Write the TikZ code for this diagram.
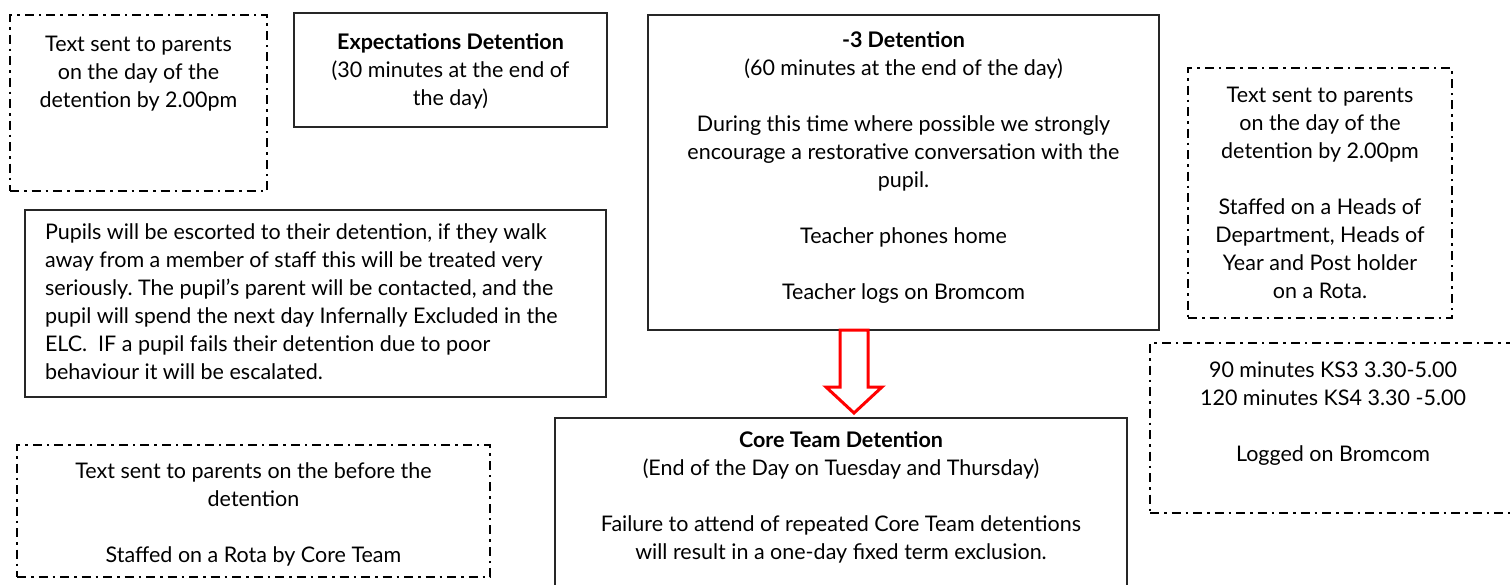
\documentclass[tikz,border=0pt]{standalone}
\usepackage{fontspec}
\setmainfont{Lato}
\usetikzlibrary{calc}
\frenchspacing
\newcommand{\ctext}[4]{\parbox[c][#2][t]{#1}{\centering\vspace*{#3}\strut #4\par}}
\newcommand{\ltext}[4]{\parbox[c][#2][t]{#1}{\raggedright\vspace*{#3}\strut #4\par}}
\begin{document}
\begin{tikzpicture}[x=1pt,y=-1pt,
  every node/.style={font=\fontsize{21.5}{28}\selectfont, inner sep=0pt, outer sep=0pt},
  solidbox/.style={draw=black!85, line width=1.4pt, fill=white, rectangle},
  dashbox/.style={draw=black, line width=2.5pt, fill=white, rectangle,
    dash pattern=on 9pt off 5pt on 2.5pt off 5pt},
  redarrow/.style={draw=red, line width=3pt, fill=white, line join=miter}]
\useasboundingbox (0,0) rectangle (1510,584);
\fill[white] (0,0) rectangle (1510,584);

\node[dashbox, minimum width=257pt, minimum height=176pt] (A) at (138.5,103)
  {\ctext{257pt}{176pt}{17pt}{Text sent to parents\\on the day of the\\detention by 2.00pm}};

\node[solidbox, minimum width=313pt, minimum height=114pt] (B) at (450.5,70)
  {\ctext{313pt}{114pt}{17pt}{\textbf{Expectations Detention}\\(30 minutes at the end of\\the day)}};

\node[solidbox, minimum width=511pt, minimum height=315pt] (C) at (903.5,172.5)
  {\ctext{511pt}{315pt}{13pt}{\textbf{-3 Detention}\\(60 minutes at the end of the day)\\[28pt]During this time where possible we strongly\\encourage a restorative conversation with the\\pupil.\\[28pt]Teacher phones home\\[28pt]Teacher logs on Bromcom}};

\node[dashbox, minimum width=264pt, minimum height=250pt] (D) at (1320,193)
  {\ctext{264pt}{250pt}{15pt}{Text sent to parents\\on the day of the\\detention by 2.00pm\\[28pt]Staffed on a Heads of\\Department, Heads of\\Year and Post holder\\on a Rota.}};

\node[dashbox, minimum width=366pt, minimum height=170pt] (E) at (1333,428)
  {\ctext{366pt}{170pt}{15pt}{90 minutes KS3 3.30-5.00\\120 minutes KS4 3.30 -5.00\\[28pt]Logged on Bromcom}};

\node[solidbox, minimum width=581pt, minimum height=187pt] (F) at (315.5,303.5)
  {\ltext{541pt}{187pt}{10pt}{Pupils will be escorted to their detention, if they walk\\away from a member of staff this will be treated very\\seriously. The pupil’s parent will be contacted, and the\\pupil will spend the next day Infernally Excluded in the\\ELC.~ IF a pupil fails their detention due to poor\\behaviour it will be escalated.}};

\node[dashbox, minimum width=473pt, minimum height=132pt] (G) at (253.5,511)
  {\ctext{473pt}{132pt}{14pt}{Text sent to parents on the before the\\detention\\[28pt]Staffed on a Rota by Core Team}};

\node[solidbox, minimum width=572pt, minimum height=190pt] (core) at (841,513)
  {\ctext{572pt}{190pt}{10pt}{\textbf{Core Team Detention}\\(End of the Day on Tuesday and Thursday)\\[28pt]Failure to attend of repeated Core Team detentions\\will result in a one-day fixed term exclusion.}};

\coordinate (arrtop) at (C.south -| 854,0);
\draw[redarrow, shift={(arrtop)}] (-14,0) -- (-14,57) -- (-28,57) -- (0,83) -- (28,57) -- (14,57) -- (14,0) -- cycle;
\end{tikzpicture}
\end{document}
